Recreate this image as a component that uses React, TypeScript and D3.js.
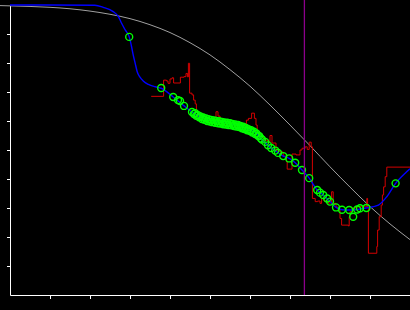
import React, { useEffect, useRef } from "react";
import * as d3 from "d3";

const W = 410;
const H = 310;

// tick positions (no labels in the reference)
const xTicks = [1, 2, 3, 4, 5, 6, 7, 8, 9];
const yTicks = [1, 2, 3, 4, 5, 6, 7, 8, 9];

// gray reference curve
const grayX = [-0.25, 0.5, 1, 1.5, 2, 2.5, 3, 3.5, 4, 4.5, 5, 5.5, 6, 6.5, 7, 7.5, 8, 8.5, 9, 9.5, 10];
const grayY = [9.98, 9.95, 9.92, 9.87, 9.79, 9.68, 9.53, 9.32, 9.05, 8.7, 8.28, 7.77, 7.2, 6.55, 5.86, 5.15, 4.42, 3.72, 3.05, 2.45, 1.91];

// blue fitted curve
const blueX = [0, 2.12, 2.33, 2.58, 2.71, 2.79, 2.88, 2.98, 3.04, 3.08, 3.13, 3.18, 3.25, 3.33, 3.46, 3.63, 3.78, 4.08, 4.35, 4.55, 4.73, 4.98, 5.23, 5.48, 5.75, 5.95, 6.15, 6.3, 6.45, 6.63, 6.83, 6.98, 7.13, 7.3, 7.48, 7.68, 7.83, 8.0, 8.15, 8.3, 8.48, 8.68, 8.91, 9.21, 9.42, 9.64, 9.88, 10];
const blueY = [10, 9.99, 9.92, 9.77, 9.6, 9.37, 9.14, 8.9, 8.56, 8.28, 7.99, 7.7, 7.51, 7.38, 7.26, 7.18, 7.13, 6.83, 6.52, 6.31, 6.16, 6.03, 5.96, 5.9, 5.83, 5.71, 5.59, 5.36, 5.16, 4.98, 4.79, 4.71, 4.56, 4.31, 4.03, 3.62, 3.45, 3.22, 3.02, 2.94, 2.93, 2.95, 3.0, 3.1, 3.39, 3.85, 4.2, 4.35];

// red step series
const redX = [3.53, 3.84, 3.91, 3.95, 4.0, 4.05, 4.09, 4.26, 4.35, 4.4, 4.44, 4.46, 4.49, 4.55, 4.59, 4.63, 4.66, 4.7, 4.78, 4.88, 4.98, 5.08, 5.15, 5.2, 5.25, 5.35, 5.45, 5.55, 5.65, 5.75, 5.85, 5.91, 5.96, 6.04, 6.11, 6.15, 6.18, 6.25, 6.35, 6.45, 6.5, 6.55, 6.65, 6.75, 6.83, 6.91, 6.93, 7.05, 7.15, 7.25, 7.3, 7.38, 7.43, 7.48, 7.53, 7.56, 7.63, 7.69, 7.75, 7.79, 7.85, 7.95, 8.04, 8.08, 8.15, 8.21, 8.25, 8.29, 8.46, 8.48, 8.5, 8.55, 8.63, 8.92, 8.94, 8.96, 9.17, 9.19, 9.23, 9.28, 9.31, 9.34, 9.38, 9.42, 10.0];
const redY = [6.85, 7.41, 7.38, 7.3, 7.45, 7.49, 7.31, 7.51, 7.53, 7.64, 7.52, 7.99, 6.96, 6.9, 6.72, 6.59, 6.34, 6.17, 6.07, 6.0, 5.93, 6.1, 6.32, 6.17, 5.97, 5.86, 5.83, 5.9, 5.83, 5.79, 5.9, 6.03, 6.09, 6.27, 6.09, 5.86, 5.59, 5.45, 5.34, 5.28, 5.5, 5.24, 4.97, 4.93, 4.79, 4.6, 4.34, 4.86, 4.83, 5.0, 5.06, 5.11, 5.02, 5.27, 5.11, 3.33, 3.22, 3.24, 3.16, 3.33, 3.24, 3.17, 3.56, 3.16, 3.03, 2.93, 2.64, 2.41, 2.38, 2.7, 2.87, 2.99, 3.04, 3.33, 3.04, 1.44, 1.67, 2.24, 2.7, 3.1, 3.45, 3.73, 4.08, 4.41, 4.41];

// green observation circles
const ptX = [2.98, 3.78, 4.08, 4.2, 4.25, 4.35, 4.55, 4.6, 4.63, 4.66, 4.7, 4.73, 4.76, 4.8, 4.83, 4.86, 4.9, 4.93, 4.96, 5.0, 5.03, 5.06, 5.1, 5.13, 5.16, 5.2, 5.23, 5.26, 5.3, 5.33, 5.36, 5.4, 5.43, 5.46, 5.5, 5.53, 5.56, 5.6, 5.63, 5.66, 5.7, 5.73, 5.76, 5.8, 5.83, 5.86, 5.9, 5.93, 5.96, 6.0, 6.03, 6.06, 6.1, 6.13, 6.16, 6.2, 6.23, 6.27, 6.3, 6.38, 6.45, 6.53, 6.63, 6.7, 6.83, 6.98, 7.13, 7.3, 7.48, 7.68, 7.75, 7.83, 7.93, 8.0, 8.15, 8.3, 8.48, 8.58, 8.68, 8.75, 8.91, 9.64];
const ptY = [8.9, 7.14, 6.83, 6.72, 6.69, 6.52, 6.31, 6.24, 6.27, 6.18, 6.2, 6.13, 6.16, 6.07, 6.12, 6.04, 6.09, 6.0, 6.06, 5.98, 6.04, 5.96, 6.02, 5.94, 6.0, 5.92, 5.99, 5.91, 5.97, 5.89, 5.95, 5.88, 5.94, 5.86, 5.92, 5.85, 5.9, 5.83, 5.88, 5.81, 5.86, 5.79, 5.83, 5.75, 5.8, 5.72, 5.76, 5.68, 5.72, 5.65, 5.68, 5.6, 5.63, 5.55, 5.57, 5.49, 5.48, 5.4, 5.36, 5.28, 5.16, 5.07, 4.98, 4.9, 4.79, 4.71, 4.56, 4.31, 4.03, 3.62, 3.53, 3.45, 3.33, 3.22, 3.02, 2.94, 2.93, 2.7, 2.95, 2.99, 3.0, 3.85];

// vertical marker
const markerX = 7.36;

export default function App() {
  const ref = useRef<SVGSVGElement>(null);

  useEffect(() => {
    const svg = d3.select(ref.current);
    svg.selectAll("*").remove();

    const x = d3.scaleLinear().domain([0, 10]).range([10, 410]);
    const y = d3.scaleLinear().domain([0, 10]).range([295, 5]);

    const xAxis = d3
      .axisBottom(x)
      .tickValues(xTicks)
      .tickSize(4)
      .tickSizeOuter(0)
      .tickFormat(() => "");
    const yAxis = d3
      .axisLeft(y)
      .tickValues(yTicks)
      .tickSize(3)
      .tickSizeOuter(0)
      .tickFormat(() => "");

    svg
      .append("g")
      .attr("transform", `translate(0,${y(0)})`)
      .attr("color", "#ffffff")
      .call(xAxis);
    svg
      .append("g")
      .attr("transform", `translate(${x(0)},0)`)
      .attr("color", "#ffffff")
      .call(yAxis);

    const line = d3
      .line<[number, number]>()
      .x((d) => x(d[0]))
      .y((d) => y(d[1]));

    svg
      .append("path")
      .datum(d3.zip(grayX, grayY) as [number, number][])
      .attr("d", line.curve(d3.curveMonotoneX))
      .attr("fill", "none")
      .attr("stroke", "#a0a0a0")
      .attr("stroke-width", 1);

    svg
      .append("path")
      .datum(d3.zip(redX, redY) as [number, number][])
      .attr("d", line.curve(d3.curveStepAfter))
      .attr("fill", "none")
      .attr("stroke", "#d40000")
      .attr("stroke-width", 1);

    svg
      .append("path")
      .datum(d3.zip(blueX, blueY) as [number, number][])
      .attr("d", line.curve(d3.curveMonotoneX))
      .attr("fill", "none")
      .attr("stroke", "#0000ff")
      .attr("stroke-width", 1.4);

    svg
      .append("g")
      .selectAll("circle")
      .data(d3.zip(ptX, ptY))
      .join("circle")
      .attr("cx", (d) => x(d[0]))
      .attr("cy", (d) => y(d[1]))
      .attr("r", 3.5)
      .attr("fill", "none")
      .attr("stroke", "#00ff00")
      .attr("stroke-width", 1.4);

    svg
      .append("line")
      .attr("x1", x(markerX))
      .attr("x2", x(markerX))
      .attr("y1", 0)
      .attr("y2", y(0))
      .attr("stroke", "#8b008b")
      .attr("stroke-width", 1.3);
  }, []);

  return (
    <svg
      ref={ref}
      width={W}
      height={H}
      style={{ position: "absolute", left: 0, top: 0, display: "block", background: "#000000" }}
    />
  );
}
